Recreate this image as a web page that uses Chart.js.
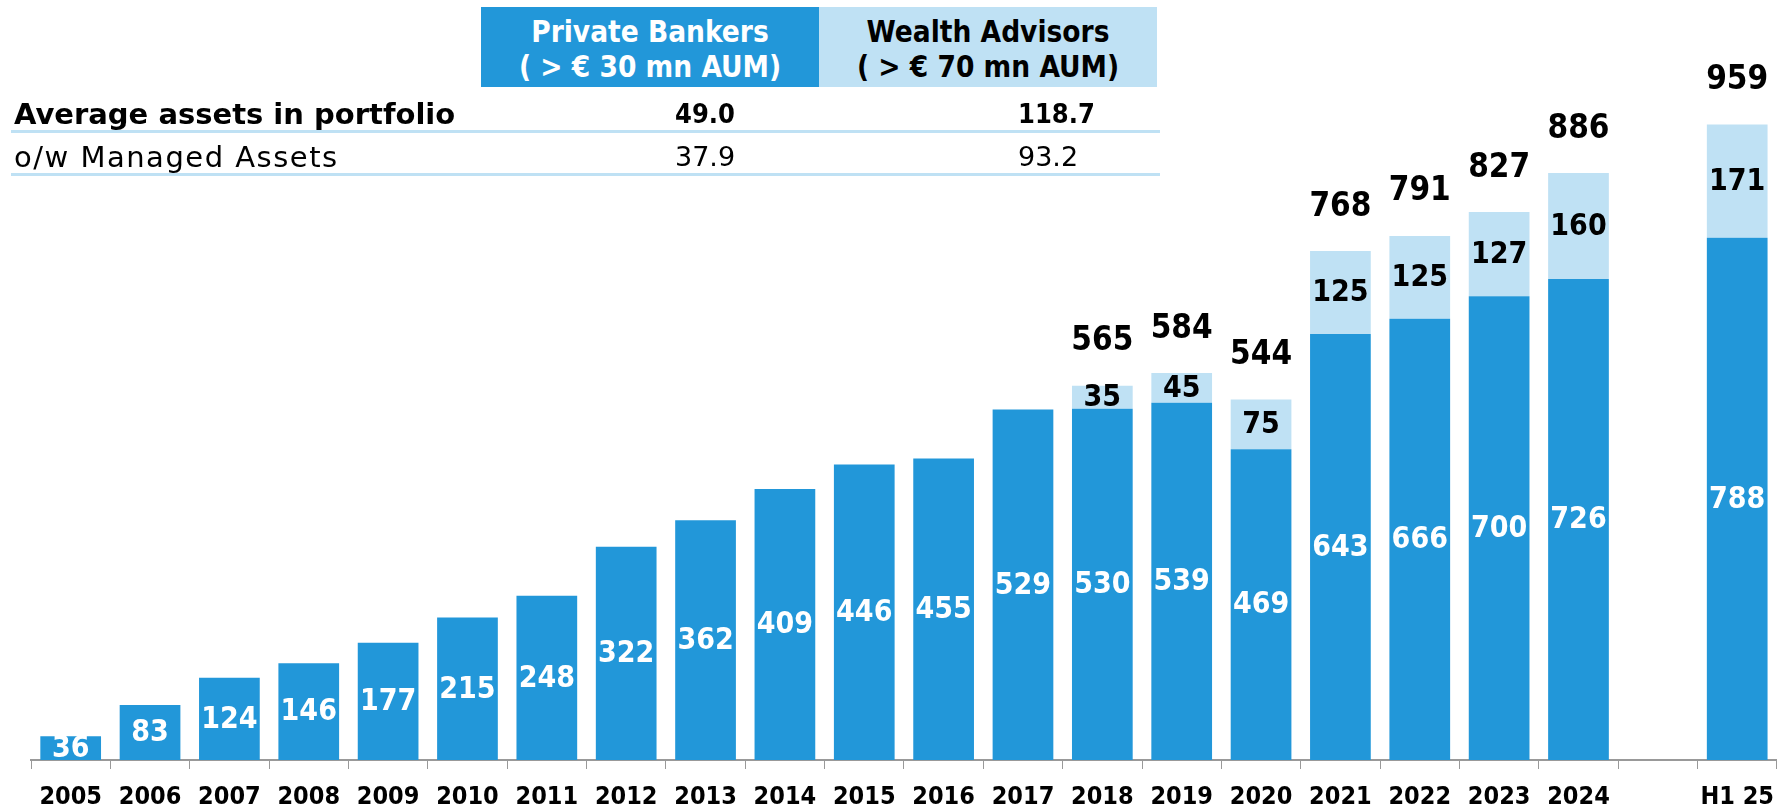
<!DOCTYPE html>
<html>
<head>
<meta charset="utf-8">
<script src="https://cdn.jsdelivr.net/npm/chart.js@4"></script>
<style>
  html, body { margin: 0; background: #fff; overflow: hidden; }
  #wrap { position: relative; width: 1787px; height: 811px; overflow: hidden; }
  #chart { position: absolute; left: 0; top: 0; }
  .cell { position: absolute; top: 7px; width: 338px; height: 80px; box-sizing: border-box; padding-top: 8px;
          text-align: center; font: bold 29.5px/35px "DejaVu Sans Condensed", "DejaVu Sans", sans-serif; }
  .pb { left: 481px; background: #2297D9; color: #fff; }
  .wa { left: 819px; background: #BFE1F4; color: #000; }
  .row { position: absolute; left: 14px; line-height: 30px; color: #000; white-space: nowrap; }
  .r1 { font: bold 29px/30px "DejaVu Sans", sans-serif; }
  .r2 { font: normal 29px/30px "DejaVu Sans", sans-serif; letter-spacing: 1.5px; }
  .val { position: absolute; font-size: 27px; line-height: 30px; white-space: nowrap; }
  .vb { font-family: "DejaVu Sans Condensed", "DejaVu Sans", sans-serif; font-weight: bold; }
  .vn { font-family: "DejaVu Sans", sans-serif; font-weight: normal; }
  .rule { position: absolute; left: 11px; width: 1149px; height: 3px; background: #BFE1F4; }
</style>
</head>
<body>
<div id="wrap">
  <canvas id="chart" width="1787" height="825"></canvas>
  <div class="cell pb">Private Bankers<br>( &gt; € 30 mn AUM)</div>
  <div class="cell wa">Wealth Advisors<br>( &gt; € 70 mn AUM)</div>
  <div class="row r1" style="top:99px">Average assets in portfolio</div>
  <div class="val vb" style="top:99px;left:675px">49.0</div>
  <div class="val vb" style="top:99px;left:1018px">118.7</div>
  <div class="rule" style="top:130px"></div>
  <div class="row r2" style="top:142px">o/w Managed Assets</div>
  <div class="val vn" style="top:142px;left:675px">37.9</div>
  <div class="val vn" style="top:142px;left:1018px">93.2</div>
  <div class="rule" style="top:173px"></div>
</div>
<script>
const years = ["2005", "2006", "2007", "2008", "2009", "2010", "2011", "2012", "2013", "2014",
  "2015", "2016", "2017", "2018", "2019", "2020", "2021", "2022", "2023", "2024", "", "H1 25"];
const privateBankers = [36, 83, 124, 146, 177, 215, 248, 322, 362, 409,
  446, 455, 529, 530, 539, 469, 643, 666, 700, 726, null, 788];
const wealthAdvisors = [null, null, null, null, null, null, null, null, null, null,
  null, null, null, 35, 45, 75, 125, 125, 127, 160, null, 171];
const totals = [null, null, null, null, null, null, null, null, null, null,
  null, null, null, 565, 584, 544, 768, 791, 827, 886, null, 959];

const FONT = "'DejaVu Sans Condensed', 'DejaVu Sans', sans-serif";

// value inside each segment + total above each stack
const barLabels = {
  id: "barLabels",
  afterDatasetsDraw(chart) {
    const ctx = chart.ctx;
    ctx.save();
    ctx.textAlign = "center";
    ctx.textBaseline = "middle";
    ctx.font = "bold 30px " + FONT;
    chart.data.datasets.forEach((ds, i) => {
      const meta = chart.getDatasetMeta(i);
      meta.data.forEach((bar, j) => {
        const v = ds.data[j];
        if (v == null) return;
        ctx.fillStyle = i === 0 ? "#fff" : "#000";
        ctx.fillText(v, bar.x, (bar.y + bar.base) / 2 + 1);
      });
    });
    ctx.font = "bold 33px " + FONT;
    ctx.fillStyle = "#000";
    const topMeta = chart.getDatasetMeta(1);
    totals.forEach((t, j) => {
      if (t == null) return;
      const bar = topMeta.data[j];
      ctx.fillText(t, bar.x, bar.y - 44);
    });
    ctx.restore();
  },
};

new Chart(document.getElementById("chart"), {
  type: "bar",
  data: {
    labels: years,
    datasets: [
      {
        label: "Private Bankers",
        data: privateBankers,
        backgroundColor: "#2297D9",
        barPercentage: 0.765,
        categoryPercentage: 1,
      },
      {
        label: "Wealth Advisors",
        data: wealthAdvisors,
        backgroundColor: "#BFE1F4",
        barPercentage: 0.765,
        categoryPercentage: 1,
      },
    ],
  },
  options: {
    responsive: false,
    animation: false,
    layout: { padding: { left: 31, top: 0, right: 0, bottom: 0 } },
    plugins: {
      legend: { display: false },
      tooltip: { enabled: false },
    },
    scales: {
      x: {
        stacked: true,
        grid: { drawOnChartArea: false, tickLength: 9, color: "#999", offset: true },
        border: { color: "#999", width: 2 },
        ticks: {
          color: "#000",
          padding: 13,
          autoSkip: false,
          maxRotation: 0,
          font: { family: FONT, size: 25, weight: "bold" },
        },
      },
      y: {
        stacked: true,
        display: false,
        min: 0,
        max: 1147,
      },
    },
  },
  plugins: [barLabels],
});
</script>
</body>
</html>
